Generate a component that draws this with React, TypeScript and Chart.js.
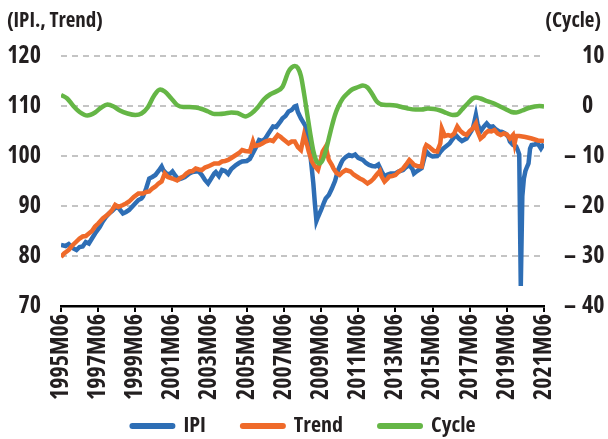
import { useEffect, useRef } from 'react';
import { Chart, registerables } from 'chart.js';

Chart.register(...registerables);

const FAMILY = '"Open Sans", "Noto Sans", sans-serif';
const WEIGHT = 'bold condensed';
const TICK_SIZE = 24;
const LEGEND_SIZE = 22;
const TITLE_SIZE = 21;
const TEXT = '#231f20';

// Month index 0 = 1995M06, 312 = 2021M06
const xTickLabels = [
  '1995M06', '1997M06', '1999M06', '2001M06', '2003M06', '2005M06', '2007M06',
  '2009M06', '2011M06', '2013M06', '2015M06', '2017M06', '2019M06', '2021M06',
];
const rightTicks = [10, 0, -10, -20, -30, -40];

const ipiMonths = [
  0, 3, 5, 8, 10, 12, 14, 16, 18, 20, 22, 25, 27, 29, 31, 33, 36, 38, 40, 42, 44, 47, 50, 52, 53, 55, 57, 59,
  61, 63, 65, 66, 68, 70, 72, 74, 76, 78, 80, 83, 85, 87, 89, 91, 93, 95, 97, 99, 100, 102, 104, 106, 108,
  110, 113, 115, 117, 120, 122, 124, 126, 128, 130, 132, 134, 137, 139, 140, 142, 143, 145, 147, 149, 151,
  152, 153, 155, 157, 158, 160, 161, 163, 164, 165, 166, 168, 170, 171, 173, 175, 177, 179, 181, 182, 184,
  186, 188, 190, 192, 195, 197, 199, 201, 203, 205, 207, 209, 211, 213, 216, 218, 221, 223, 225, 227, 228,
  230, 233, 235, 236, 238, 240, 243, 245, 247, 249, 251, 253, 255, 257, 259, 262, 264, 266, 267, 268, 269,
  271, 273, 275, 277, 279, 281, 283, 285, 287, 289, 290, 292, 294, 295, 296, 297, 298, 299, 300, 301, 302,
  303, 304, 306, 308, 310, 311, 312,
];
const ipiValues = [
  82.2, 82.0, 82.4, 81.5, 81.2, 81.8, 81.9, 82.8, 82.5, 83.5, 84.5, 85.8, 86.9, 87.8, 88.5, 89.0, 89.9, 89.3,
  88.5, 88.8, 89.2, 90.2, 91.2, 91.5, 91.9, 93.5, 95.5, 95.8, 96.2, 97.0, 97.9, 97.2, 96.5, 96.3, 96.9, 96.0,
  95.3, 95.5, 95.8, 96.5, 96.8, 96.9, 96.9, 96.2, 95.2, 94.5, 95.5, 96.5, 96.8, 96.0, 97.2, 97.0, 96.4, 97.4,
  98.2, 98.6, 98.9, 99.0, 99.4, 100.6, 101.8, 103.2, 103.0, 103.5, 104.5, 105.9, 105.8, 106.2, 107.0, 107.5,
  108.0, 108.9, 109.2, 109.9, 110.0, 108.8, 107.5, 106.5, 105.9, 103.0, 100.5, 94.5, 90.5, 87.0, 87.8, 89.2,
  90.8, 91.5, 92.2, 93.5, 95.0, 97.2, 98.6, 99.2, 99.8, 100.2, 100.0, 100.3, 99.6, 99.2, 98.6, 98.2, 98.0,
  97.9, 98.3, 97.0, 95.9, 96.3, 96.5, 96.5, 96.9, 97.2, 97.8, 98.2, 97.4, 96.5, 97.0, 97.6, 100.0, 100.9,
  100.2, 99.9, 100.0, 100.8, 101.5, 102.0, 102.5, 103.4, 104.2, 103.5, 103.0, 103.5, 104.5, 105.5, 106.8,
  108.2, 106.5, 104.9, 105.8, 106.5, 105.8, 105.9, 105.3, 104.9, 104.8, 104.5, 103.8, 102.9, 102.2, 101.9,
  101.2, 100.3, 74.0, 92.0, 95.5, 97.0, 97.8, 98.5, 101.5, 102.2, 102.3, 102.5, 101.5, 102.0, 101.6,
];

const trendMonths = [
  0, 2, 5, 7, 10, 12, 14, 16, 18, 20, 22, 24, 27, 29, 31, 33, 35, 37, 40, 42, 44, 47, 50, 53, 55, 57, 59, 61,
  63, 65, 67, 69, 72, 75, 77, 79, 81, 83, 85, 87, 89, 91, 93, 95, 97, 99, 102, 104, 106, 108, 110, 113, 115,
  117, 119, 122, 124, 125, 128, 130, 132, 135, 137, 140, 142, 143, 145, 147, 149, 151, 153, 155, 157, 159,
  160, 162, 164, 166, 168, 169, 171, 173, 175, 176, 178, 180, 182, 184, 187, 189, 191, 193, 195, 198, 200,
  202, 204, 206, 207, 209, 211, 212, 214, 216, 218, 221, 223, 225, 227, 228, 230, 233, 235, 236, 238, 239,
  241, 243, 245, 246, 248, 250, 252, 254, 256, 258, 260, 262, 264, 266, 268, 269, 271, 273, 274, 276, 278,
  280, 282, 284, 286, 288, 290, 292, 293, 294, 296, 300, 304, 308, 312,
];
const trendValues = [
  79.8, 80.5, 81.2, 82.0, 82.9, 83.5, 83.9, 84.0, 84.5, 85.0, 85.9, 86.5, 87.5, 88.0, 88.5, 89.2, 90.2, 89.8,
  90.2, 90.5, 90.9, 91.8, 92.5, 92.5, 92.8, 92.9, 93.5, 93.9, 94.5, 94.9, 96.5, 95.8, 95.5, 95.1, 95.6, 95.9,
  96.5, 96.9, 97.0, 97.5, 97.3, 97.2, 97.7, 97.9, 98.2, 98.5, 98.5, 98.9, 99.0, 99.2, 99.6, 100.2, 100.6,
  101.2, 101.0, 100.9, 102.9, 102.0, 102.2, 102.5, 102.9, 103.2, 103.0, 104.2, 103.8, 103.5, 103.0, 102.5,
  102.9, 102.9, 101.8, 101.2, 104.2, 102.2, 100.9, 99.0, 97.9, 97.2, 99.5, 100.9, 101.9, 99.2, 98.2, 97.5,
  96.6, 96.2, 96.8, 97.2, 96.9, 96.3, 95.9, 95.5, 95.2, 94.5, 94.9, 95.5, 96.3, 97.0, 96.0, 94.9, 95.5, 95.9,
  96.0, 96.2, 96.8, 97.5, 98.3, 99.2, 98.6, 98.2, 98.0, 97.9, 101.5, 102.2, 101.8, 101.5, 101.0, 100.9, 102.5,
  105.5, 104.0, 104.2, 104.0, 104.5, 105.9, 105.0, 104.5, 104.2, 105.0, 105.5, 106.5, 105.0, 103.5, 104.0,
  104.5, 105.0, 104.9, 105.2, 104.5, 104.2, 104.5, 104.3, 103.5, 104.2, 102.5, 104.0, 104.0, 103.8, 103.5,
  103.1, 103.0,
];

const cycleMonths = [
  0, 4, 8, 12, 17, 22, 26, 30, 34, 38, 43, 48, 52, 56, 60, 64, 67, 71, 75, 79, 83, 87, 91, 95, 99, 102, 106,
  110, 114, 119, 123, 127, 131, 135, 139, 143, 147, 149, 151, 153, 155, 157, 159, 161, 163, 165, 167, 169,
  171, 173, 175, 177, 179, 182, 185, 188, 192, 195, 198, 201, 204, 207, 211, 216, 220, 224, 229, 233, 237,
  241, 245, 249, 253, 256, 259, 263, 266, 268, 271, 275, 279, 283, 287, 291, 294, 298, 302, 306, 309, 312,
];
const cycleValues = [
  2.2, 1.5, 0.0, -1.2, -1.9, -1.3, -0.3, 0.3, -0.1, -0.9, -1.5, -1.8, -1.5, -0.3, 2.0, 3.3, 2.9, 1.6, 0.2,
  -0.2, -0.2, -0.3, -0.6, -1.1, -1.6, -1.6, -1.5, -1.3, -1.4, -2.1, -1.5, -0.3, 1.3, 2.3, 2.9, 3.8, 6.9, 7.7,
  8.0, 7.6, 6.0, 2.5, -1.5, -5.5, -9.0, -11.0, -11.5, -10.8, -9.0, -6.5, -4.0, -1.8, -0.2, 1.5, 2.5, 3.3,
  3.8, 4.1, 3.7, 2.4, 0.9, 0.3, 0.2, 0.1, -0.2, -0.5, -0.7, -0.7, -0.5, -0.6, -0.9, -1.4, -1.8, -1.7, -0.7,
  0.6, 1.5, 1.7, 1.5, 1.0, 0.6, 0.0, -0.6, -1.2, -1.3, -0.9, -0.4, -0.1, 0.0, -0.1,
];

const BLUE = '#2E6EB5';
const ORANGE = '#EF6A2A';
const GREEN = '#65B646';

const toPoints = (xs: number[], ys: number[]) => xs.map((x, i) => ({ x, y: ys[i] }));
const tickFont = { family: FAMILY, size: TICK_SIZE, weight: WEIGHT as any };
const legendFont = { family: FAMILY, size: LEGEND_SIZE, weight: WEIGHT as any };

const textPlugin = {
  id: 'extraTexts',
  beforeDraw(chart: any) {
    // let the rotated x labels run past the axis box (into the legend's top padding)
    const x = chart.scales.x;
    if (x) x._computeLabelArea = () => undefined;
  },
  afterDraw(chart: any) {
    const ctx = chart.ctx as CanvasRenderingContext2D;
    ctx.save();
    ctx.fillStyle = TEXT;
    ctx.textBaseline = 'middle';
    ctx.font = `${WEIGHT} ${TITLE_SIZE}px ${FAMILY}`;
    ctx.textAlign = 'left';
    ctx.fillText('(IPI., Trend)', 7, 21);
    ctx.textAlign = 'right';
    ctx.fillText('(Cycle)', 601, 21);
    ctx.font = `${WEIGHT} ${TICK_SIZE}px ${FAMILY}`;
    const y1 = chart.scales.y1;
    rightTicks.forEach((v) => {
      const y = y1.getPixelForValue(v);
      ctx.textAlign = 'left';
      ctx.fillText(String(Math.abs(v)), 582, y);
      if (v < 0) ctx.fillText('\u2013', 564, y);
    });
    ctx.restore();
  },
};

export default function App() {
  const ref = useRef<HTMLCanvasElement | null>(null);

  useEffect(() => {
    if (!ref.current) return;
    const chart = new Chart(ref.current, {
      type: 'line',
      data: {
        datasets: [
          {
            label: 'IPI',
            data: toPoints(ipiMonths, ipiValues),
            borderColor: BLUE,
            backgroundColor: BLUE,
            borderWidth: 4.5,
            pointRadius: 0,
            tension: 0,
            yAxisID: 'y',
            order: 3,
          },
          {
            label: 'Trend',
            data: toPoints(trendMonths, trendValues),
            borderColor: ORANGE,
            backgroundColor: ORANGE,
            borderWidth: 4.5,
            pointRadius: 0,
            tension: 0,
            yAxisID: 'y',
            order: 2,
          },
          {
            label: 'Cycle',
            data: toPoints(cycleMonths, cycleValues),
            borderColor: GREEN,
            backgroundColor: GREEN,
            borderWidth: 4.5,
            pointRadius: 0,
            tension: 0.4,
            cubicInterpolationMode: 'monotone',
            yAxisID: 'y1',
            order: 1,
          },
        ],
      },
      options: {
        animation: false,
        responsive: true,
        maintainAspectRatio: false,
        layout: { padding: { top: 56, left: 0, right: 0, bottom: -8 } },
        plugins: {
          legend: {
            position: 'bottom',
            labels: {
              usePointStyle: true,
              pointStyle: 'line',
              pointStyleWidth: 40,
              boxWidth: 40,
              boxHeight: LEGEND_SIZE,
              padding: 37,
              color: TEXT,
              font: legendFont,
              sort: (a: any, b: any) => a.datasetIndex - b.datasetIndex,
              generateLabels: (c: any) => {
                const items = Chart.defaults.plugins.legend.labels.generateLabels(c);
                return items.map((it: any) => ({ ...it, lineWidth: 6, lineCap: 'round', pointStyle: 'line' }));
              },
            },
          },
          tooltip: { enabled: false },
        },
        scales: {
          x: {
            type: 'linear',
            min: 0,
            max: 312,
            afterFit: (s: any) => { s.height = 72; },
            afterBuildTicks: (s: any) => {
              s.ticks = xTickLabels.map((_, i) => ({ value: i * 24 }));
            },
            ticks: {
              autoSkip: false,
              maxRotation: 90,
              minRotation: 90,
              padding: 2,
              color: TEXT,
              font: tickFont,
              callback: (v: any) => xTickLabels[Math.round(Number(v) / 24)] ?? '',
            },
            grid: {
              drawOnChartArea: false,
              drawTicks: true,
              tickLength: 6,
              color: '#000',
              lineWidth: 2,
            },
            border: { display: true, color: '#000', width: 2.5 },
          },
          y: {
            position: 'left',
            min: 70,
            max: 120,
            afterFit: (s: any) => { s.width = 61; },
            ticks: {
              stepSize: 10,
              padding: 20,
              color: TEXT,
              font: tickFont,
            },
            grid: {
              drawTicks: false,
              color: (c: any) => (c.tick && c.tick.value === 70 ? 'rgba(0,0,0,0)' : '#C4C4C4'),
              lineWidth: 2,
            },
            border: { display: false, dash: [6, 5] },
          },
          y1: {
            position: 'right',
            min: -40,
            max: 10,
            afterFit: (s: any) => { s.width = 64; },
            ticks: { display: false, stepSize: 10 },
            grid: { display: false, drawTicks: false },
            border: { display: false },
          },
        },
      },
      plugins: [textPlugin],
    });
    return () => chart.destroy();
  }, []);

  return (
    <div style={{ position: 'fixed', left: 0, top: 0, width: 608, height: 439, background: '#fff' }}>
      <canvas ref={ref} />
    </div>
  );
}
